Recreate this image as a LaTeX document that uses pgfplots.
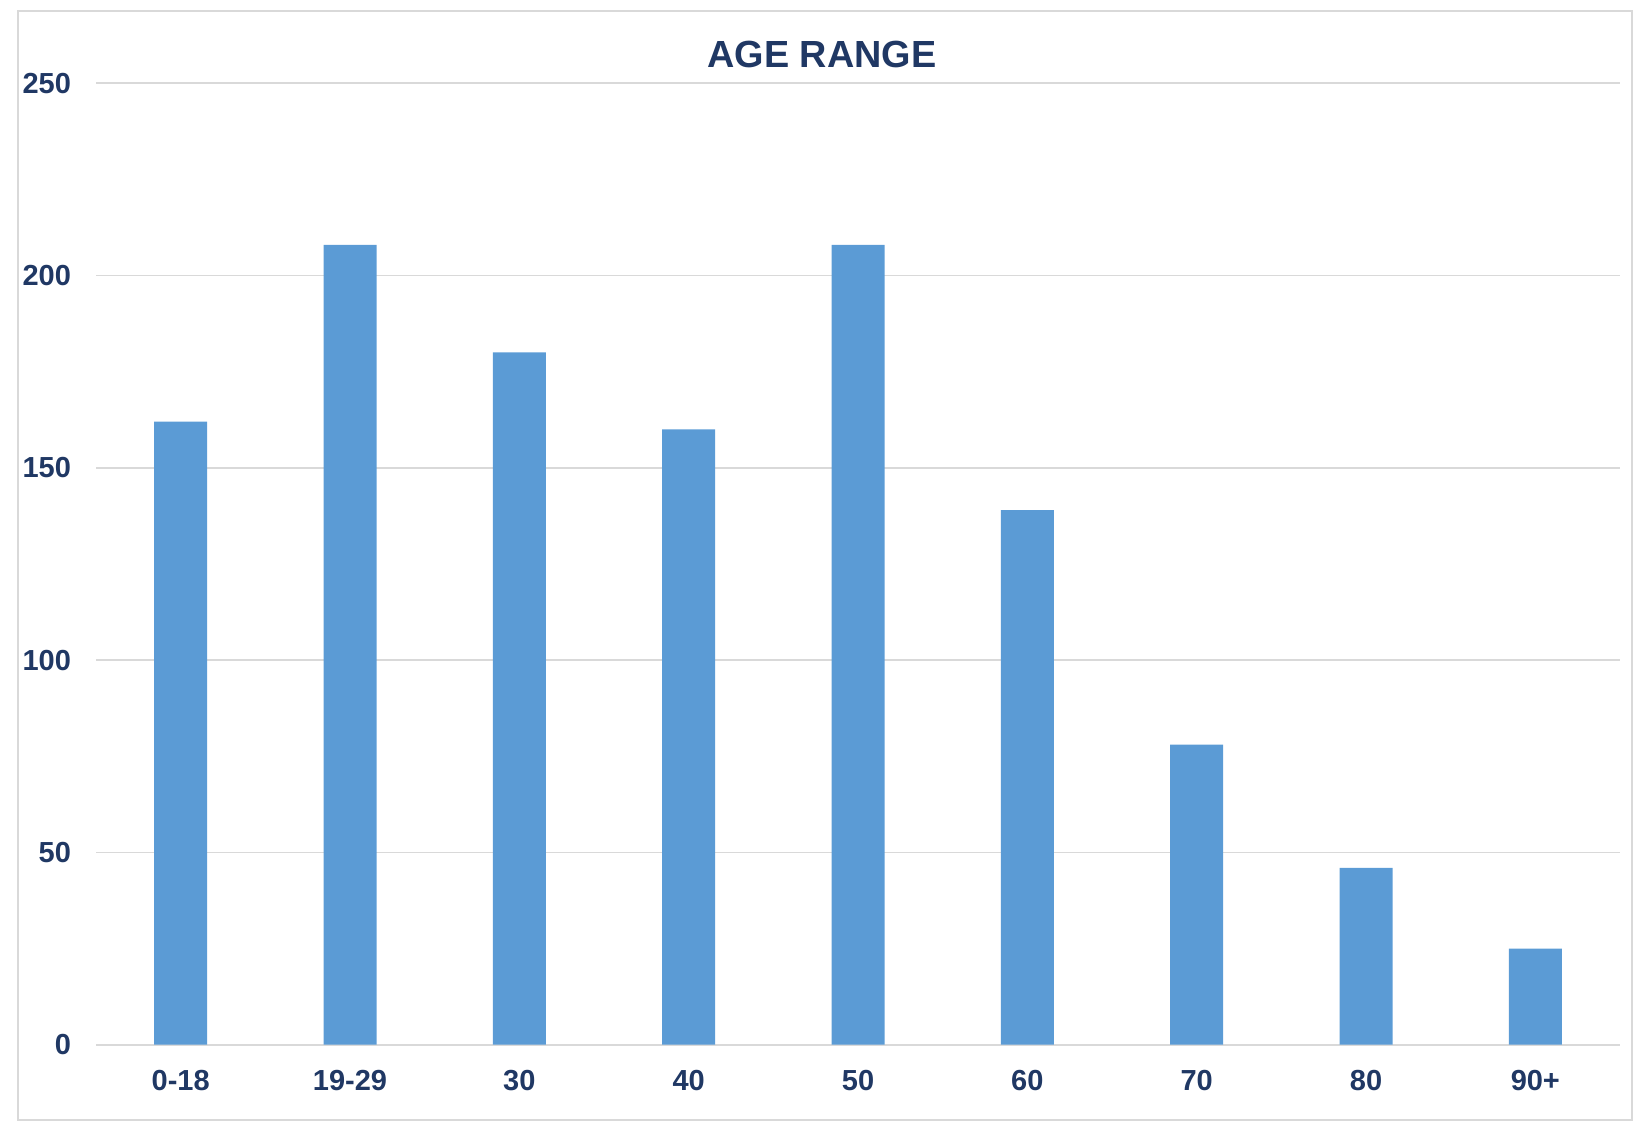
\documentclass[border=0pt]{standalone}
\usepackage{fontspec}
\setmainfont{Liberation Sans}
\usepackage{pgfplots}
\pgfplotsset{compat=1.18}
\definecolor{barblue}{HTML}{5B9BD5}
\definecolor{navy}{HTML}{203864}
\definecolor{gridgray}{HTML}{D9D9D9}
\begin{document}
\begin{tikzpicture}
\useasboundingbox (-48pt,-38.15pt) rectangle (768.5pt,522.35pt);
\draw[gridgray, line width=1pt] (-39pt,-37.65pt) rectangle (768pt,516.85pt);
\begin{axis}[
  at={(0pt,0pt)}, anchor=south west,
  scale only axis,
  width=762pt, height=480.7pt,
  xmin=-0.5, xmax=8.5,
  ymin=0, ymax=250,
  ytick={0,50,100,150,200,250},
  xtick={0,...,8},
  xticklabels={0-18,19-29,30,40,50,60,70,80,90+},
  axis line style={draw=none},
  tick style={draw=none},
  ymajorgrids,
  grid style={gridgray, line width=0.9pt},
  /pgf/number format/assume math mode=true,
  ticklabel style={font=\bfseries\fontsize{14.5}{17}\selectfont, text=navy},
  yticklabel style={anchor=east, xshift=-9pt},
  xticklabel style={anchor=north, yshift=-9pt},
  clip=false,
]
\addplot[ybar, bar width=26.5pt, fill=barblue, draw=none] coordinates {
  (0,162) (1,208) (2,180) (3,160) (4,208) (5,139) (6,78) (7,46) (8,25)
};
\end{axis}
\node[font=\bfseries\fontsize{18.9}{22}\selectfont, text=navy] at (363pt,495.35pt) {AGE RANGE};
\end{tikzpicture}
\end{document}
